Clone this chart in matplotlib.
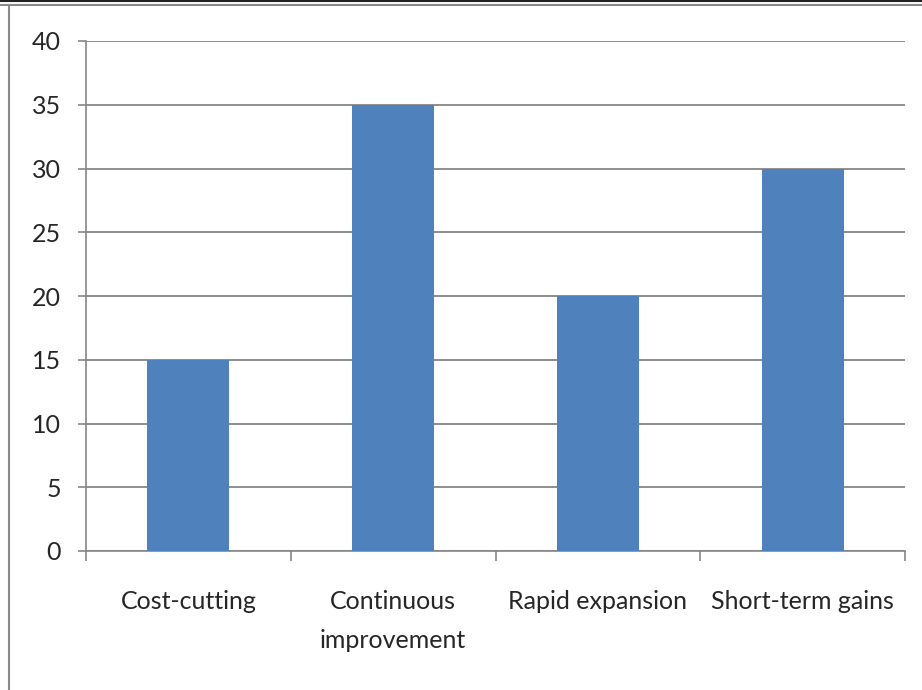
import matplotlib
matplotlib.use("Agg")
import matplotlib.pyplot as plt
from matplotlib.lines import Line2D
import numpy as np

categories = ["Cost-cutting", "Continuous\nimprovement", "Rapid expansion", "Short-term gains"]
values = [15, 35, 20, 30]
yticks = [0, 5, 10, 15, 20, 25, 30, 35, 40]

plt.rcParams['font.family'] = ['Lato', 'DejaVu Sans']

fig = plt.figure(figsize=(9.22, 6.9), dpi=100)
ax = fig.add_axes([86/922, 1-551/690, (905-86)/922, (551-41)/690])

x = np.arange(len(categories))
ax.bar(x, values, width=0.4, color="#4F81BD", zorder=3)

ax.set_xlim(-0.5, len(categories) - 0.5)
ax.set_ylim(0, 40)
ax.set_yticks(yticks)
ax.yaxis.grid(True, color="#868686", linewidth=1.3, zorder=0)

# category boundaries get the tick marks, labels sit at the centres
ax.set_xticks(np.arange(len(categories) + 1) - 0.5)
ax.set_xticklabels([])
ax.set_xticks(x, minor=True)
ax.set_xticklabels(categories, minor=True, fontsize=18, color="#262626", linespacing=1.85)
ax.tick_params(axis="x", which="major", length=7, width=1.2, color="#868686", direction="out")
ax.tick_params(axis="x", which="minor", length=0, pad=28)
ax.tick_params(axis="y", length=6, width=1.2, color="#868686", pad=12, labelsize=18, labelcolor="#262626")

for side in ["top", "right"]:
    ax.spines[side].set_visible(False)
ax.spines["left"].set_color("#868686")
ax.spines["bottom"].set_color("#868686")
ax.spines["left"].set_linewidth(1.2)
ax.spines["bottom"].set_linewidth(1.2)

# outer frame of the chart
fig.add_artist(Line2D([0, 1], [0.999, 0.999], transform=fig.transFigure, color="#222222", linewidth=1.5))
fig.add_artist(Line2D([0, 1], [1-4.5/690, 1-4.5/690], transform=fig.transFigure, color="#8a8a8a", linewidth=1.5))
fig.add_artist(Line2D([8.5/922, 8.5/922], [0, 1-4.5/690], transform=fig.transFigure, color="#8a8a8a", linewidth=1.5))

fig.savefig("out.png", dpi=100)
